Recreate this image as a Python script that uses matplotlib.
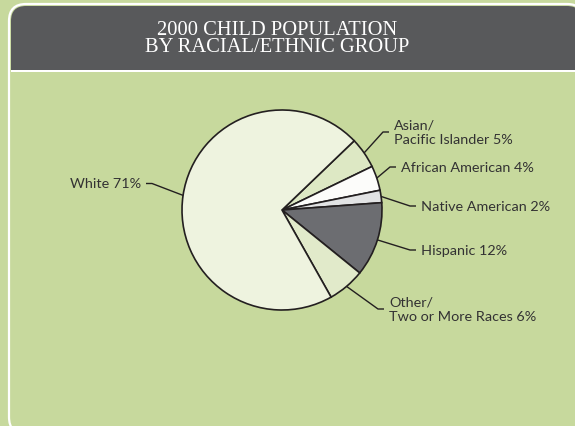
import matplotlib.pyplot as plt
from matplotlib.patches import FancyBboxPatch, Rectangle
import numpy as np

# child population shares, in clockwise order from the upper right
groups = ["Asian/\nPacific Islander", "African American", "Native American",
          "Hispanic", "Other/\nTwo or More Races", "White"]
shares = [5, 4, 2, 12, 6, 71]
slice_colors = ["#dde8c4", "#fcfcfa", "#e2e3e4", "#6c6d71", "#e1eaca", "#eef3df"]

# label anchor (elbow x, y) in pie units, and text side
elbows = [(1.01, 0.78), (1.08, 0.43), (1.28, 0.04), (1.28, -0.40), (0.96, -0.99), (-1.30, 0.265)]
sides = [1, 1, 1, 1, 1, -1]

GREEN = "#c7d99d"
HEADER = "#58595b"
INK = "#231f20"
TEXT = "#333233"

W, H = 575, 427
fig = plt.figure(figsize=(W / 100, H / 100), dpi=100)
fig.patch.set_facecolor(GREEN)

# panel frame and header in pixel coordinates
bg = fig.add_axes([0, 0, 1, 1])
bg.set_xlim(0, W)
bg.set_ylim(H, 0)
bg.axis("off")
bg.add_patch(FancyBboxPatch((9, 5), 575, 430, boxstyle="round,pad=0,rounding_size=17",
                            facecolor=GREEN, edgecolor="white", linewidth=1.6))
bg.add_patch(FancyBboxPatch((11, 7), 571, 100, boxstyle="round,pad=0,rounding_size=15",
                            facecolor=HEADER, edgecolor="none"))
bg.add_patch(Rectangle((11, 71), 571, 2, facecolor="white", edgecolor="none"))
bg.add_patch(Rectangle((11, 73), 571, 60, facecolor=GREEN, edgecolor="none"))
bg.text(277, 39, "2000 CHILD POPULATION\nBY RACIAL/ETHNIC GROUP", ha="center", va="center",
        multialignment="center", color="white", fontsize=14.8, family="Liberation Serif",
        linespacing=0.92)

# pie: centre at (282, 211) px, radius 100 px
cx, cy, box = 282, H - 211, 300
ax = fig.add_axes([(cx - box / 2) / W, (cy - box / 2) / H, box / W, box / H])

wedges, _ = ax.pie(shares, colors=slice_colors, startangle=43.8, counterclock=False,
                   radius=1.0, wedgeprops=dict(edgecolor=INK, linewidth=1.2))
ax.set_xlim(-1.5, 1.5)
ax.set_ylim(-1.5, 1.5)
ax.set_aspect("equal")
ax.axis("off")

for w, name, val, (ex, ey), side in zip(wedges, groups, shares, elbows, sides):
    mid = np.deg2rad((w.theta1 + w.theta2) / 2)
    sx, sy = np.cos(mid), np.sin(mid)
    end_x = ex + 0.06 * side
    ax.plot([sx, ex, end_x], [sy, ey, ey], color=INK, linewidth=1.0,
            solid_capstyle="butt", clip_on=False)
    ax.text(end_x + 0.05 * side, ey, f"{name} {val}%", ha="left" if side > 0 else "right",
            va="center", color=TEXT, fontsize=10.4, family="Lato", linespacing=1.3)

fig.savefig("out.png", dpi=100, facecolor=GREEN)
